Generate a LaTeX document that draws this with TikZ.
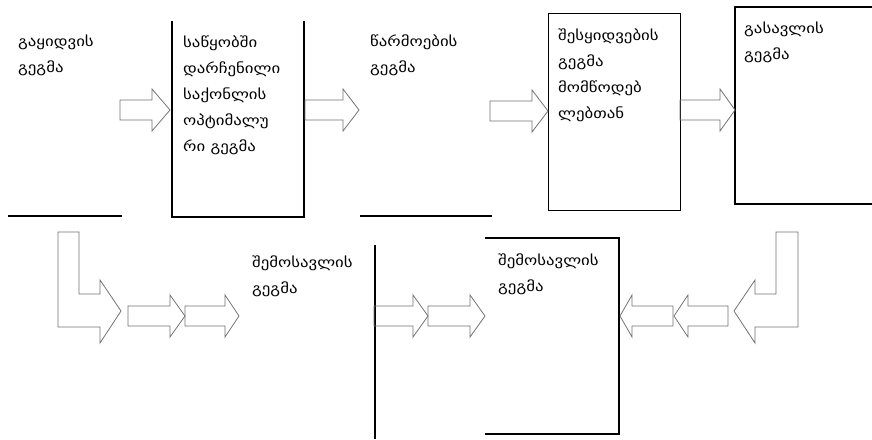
\documentclass[tikz,border=0pt]{standalone}
\usepackage{fontspec}
\newfontfamily\geofont[FakeStretch=1.2]{DejaVu Sans}
\begin{document}
\begin{tikzpicture}[x=1pt,y=-1pt,
  frame/.style={draw=black, line width=1.3pt},
  hollow/.style={draw=black!55, line width=0.8pt, line join=miter},
  label/.style={anchor=north west, inner sep=0pt, align=left, text=black,
    font=\geofont\fontsize{14}{26}\selectfont}]
\useasboundingbox[fill=white] (0,0) rectangle (872,439);

% right-pointing hollow block arrow: tail x, head-base x, tip x, centre y
\newcommand{\arrowright}[4]{%
  \draw[hollow] (#1,#4-10) -- (#2,#4-10) -- (#2,#4-21) -- (#3,#4)
    -- (#2,#4+21) -- (#2,#4+10) -- (#1,#4+10) -- cycle;}
% left-pointing hollow block arrow: tail x, head-base x, tip x, centre y
\newcommand{\arrowleft}[4]{%
  \draw[hollow] (#1,#4-10) -- (#2,#4-10) -- (#2,#4-21) -- (#3,#4)
    -- (#2,#4+21) -- (#2,#4+10) -- (#1,#4+10) -- cycle;}

% ---- top row ----
\node[label] (sales) at (18,35) {გაყიდვის\\გეგმა};
\coordinate (salesA) at (8,216);
\coordinate (salesB) at (122,216);
\draw[frame] (salesA) -- (salesB);

\coordinate (stockTL) at (172,21);
\coordinate (stockBR) at (304,217);
\draw[frame] (stockTL) |- (stockBR) -- (stockBR |- stockTL);
\node[label] (stock) at (183,36) {საწყობში\\დარჩენილი\\საქონლის\\ოპტიმალუ\\რი გეგმა};

\node[label] (prod) at (370,35) {წარმოების\\გეგმა};
\coordinate (prodA) at (360,216);
\coordinate (prodB) at (492,216);
\draw[frame] (prodA) -- (prodB);

\node[frame, minimum width=132pt, minimum height=197pt, anchor=north west,
      inner sep=0pt] (purch) at (548,13) {};
\node[label] (purchT) at (558,29) {შესყიდვების\\გეგმა\\მომწოდებ\\ლებთან};

\coordinate (payT) at (735,7);
\coordinate (payB) at (735,204);
\draw[frame] (872,7) -- (payT) -- (payB) -- (872,204);
\node[label] (payTxt) at (744,22) {გასავლის\\გეგმა};

\arrowright{120}{152}{170}{110}
\arrowright{305}{343}{359}{110}
\arrowright{490}{532}{548}{111}
\arrowright{680}{720}{735}{110}

% ---- bottom row ----
\node[label] (income) at (252,256) {შემოსავლის\\გეგმა};
\coordinate (incA) at (375,245);
\coordinate (incB) at (375,439);
\draw[frame] (incA) -- (incB);

\coordinate (resTL) at (485,238);
\coordinate (resBR) at (619,434);
\draw[frame] (resTL) -| (resBR) -- (resTL |- resBR);
\node[label] (resTxt) at (498,254) {შემოსავლის\\გეგმა};

% bent arrow on the left, down from the sales plan
\draw[hollow] (58,232) -- (79,232) -- (79,294) -- (100,294) -- (100,280)
  -- (121,311) -- (100,343) -- (100,327) -- (58,327) -- cycle;
\arrowright{128}{170}{185}{316}
\arrowright{185}{225}{239}{316}
\arrowright{374}{413}{428}{316}
\arrowright{428}{470}{485}{316}

% bent arrow on the right, down from the expenditure plan
\draw[hollow] (798,232) -- (776,232) -- (776,294) -- (755,294) -- (755,280)
  -- (734,311) -- (755,343) -- (755,327) -- (798,327) -- cycle;
\arrowleft{728}{688}{674}{316}
\arrowleft{673}{632}{620}{316}
\end{tikzpicture}
\end{document}
